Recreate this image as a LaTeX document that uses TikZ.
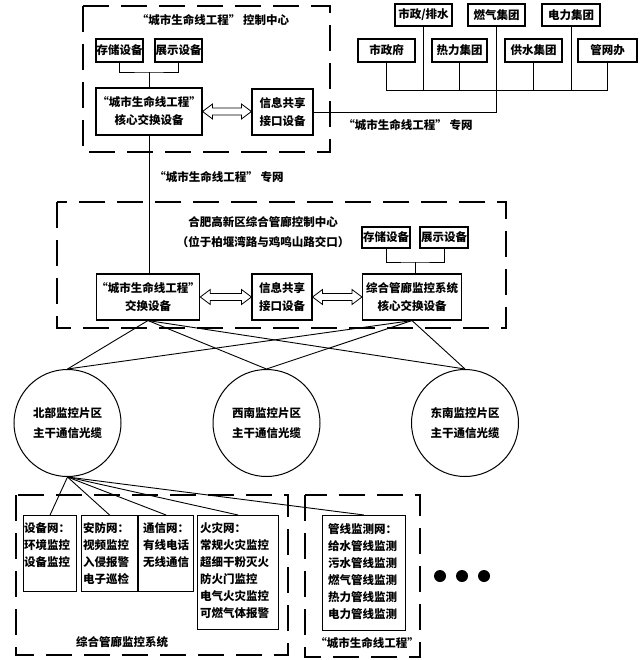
\documentclass[tikz,border=0pt]{standalone}
\usepackage{fontspec}
\newfontfamily\cjk{Noto Sans CJK SC}
\usetikzlibrary{calc}
\begin{document}
\begin{tikzpicture}[x=1pt,y=1pt]
\tikzstyle{every node}+=[inner sep=0pt,font=\cjk\bfseries\fontsize{11.5}{18}\selectfont]
\tikzstyle{box}=[draw,line width=1.1pt,align=center]
\tikzstyle{netbox}=[draw,line width=1.1pt,anchor=north west]
\tikzstyle{nettext}=[anchor=north west,align=left,font=\cjk\bfseries\fontsize{11.5}{17}\selectfont]
\tikzstyle{ring}=[draw,circle,line width=1pt,minimum size=107pt,align=center,font=\cjk\bfseries\fontsize{11.5}{20}\selectfont]
\tikzstyle{dashbox}=[line width=1.1pt,dash pattern=on 26pt off 12pt]
\tikzstyle{wire}=[line width=0.9pt]
\tikzstyle{dblarrow}=[line width=0.8pt,to path={let \p1=(\tikztostart),\p2=(\tikztotarget) in
 (\p1) -- (\x1+10pt,\y1+7.5pt) -- (\x1+10pt,\y1+3.5pt) -- (\x2-10pt,\y1+3.5pt) -- (\x2-10pt,\y1+7.5pt)
 -- (\x2,\y1) -- (\x2-10pt,\y1-7.5pt) -- (\x2-10pt,\y1-3.5pt) -- (\x1+10pt,\y1-3.5pt) -- (\x1+10pt,\y1-7.5pt) -- cycle}]
\useasboundingbox (0,0) rectangle (640,-660);
\draw [dashbox] (83,-6) rectangle (330,-152);
\node (title1) at (213,-20) {“城市生命线工程” 控制中心};
\node [box,minimum width=47pt,minimum height=23pt] (store1) at (119.5,-50.5) {存储设备};
\node [box,minimum width=47pt,minimum height=23pt] (show1) at (178.5,-50.5) {展示设备};
\node [box,minimum width=106pt,minimum height=47pt] (core1) at (149,-111.5) {“城市生命线工程”\\核心交换设备};
\node [box,minimum width=61pt,minimum height=46pt] (share1) at (282.5,-112) {信息共享\\接口设备};
\coordinate (j1) at (149,-72);
\draw [wire] (store1.south) |- (j1) -| (show1.south);
\draw [wire] (j1) -- (core1.north);
\draw [dblarrow] (core1.east) to (share1.west);
\node [box,minimum width=57pt,minimum height=22pt] (szps) at (423.5,-15) {市政/排水};
\node [box,minimum width=57pt,minimum height=22pt] (rq) at (496.5,-15) {燃气集团};
\node [box,minimum width=58pt,minimum height=22pt] (dl) at (571,-15) {电力集团};
\node [box,minimum width=57pt,minimum height=23pt] (szf) at (386.5,-50.5) {市政府};
\node [box,minimum width=55pt,minimum height=23pt] (rl) at (459.5,-50.5) {热力集团};
\node [box,minimum width=57pt,minimum height=23pt] (gs) at (533.5,-50.5) {供水集团};
\node [box,minimum width=59pt,minimum height=23pt] (gwb) at (607.5,-50.5) {管网办};
\coordinate (bus) at (0,-90);
\draw [wire] (szf.south) -- (szf.south |- bus) -- (gwb.south |- bus) -- (gwb.south);
\foreach \n in {szps,rl,gs,dl}
  \draw [wire] (\n.south) -- (\n.south |- bus);
\draw [wire] (share1.east) -| (rq.south);
\node (net1) at (408,-125) {“城市生命线工程” 专网};
\node (net2) at (219,-177) {“城市生命线工程” 专网};
\draw [dashbox] (57,-202) rectangle (506,-328);
\node [align=center,font=\cjk\bfseries\fontsize{11.5}{20}\selectfont] (title2) at (263,-232) {合肥高新区综合管廊控制中心\\（位于柏堰湾路与鸡鸣山路交口）};
\node [box,minimum width=48pt,minimum height=21pt] (store2) at (386,-237.5) {存储设备};
\node [box,minimum width=48pt,minimum height=21pt] (show2) at (444,-237.5) {展示设备};
\node [box,minimum width=103pt,minimum height=46pt] (exch) at (148,-297) {“城市生命线工程”\\交换设备};
\node [box,minimum width=60pt,minimum height=46pt] (share2) at (282,-297) {信息共享\\接口设备};
\node [box,minimum width=99pt,minimum height=46pt] (core2) at (412,-297) {综合管廊监控系统\\核心交换设备};
\draw [wire] (core1.south) -- (core1.south |- exch.north);
\coordinate (j2) at (415,-262);
\draw [wire] (store2.south) |- (j2) -| (show2.south);
\draw [wire] (j2) -- (j2 |- core2.north);
\draw [dblarrow] (exch.east) to (share2.west);
\draw [dblarrow] (share2.east) to (core2.west);
\node [ring] (bb) at (67.5,-423) {北部监控片区\\主干通信光缆};
\node [ring] (xn) at (266.5,-423) {西南监控片区\\主干通信光缆};
\node [ring] (dn) at (465,-423) {东南监控片区\\主干通信光缆};
\foreach \c in {bb,xn,dn} {
  \draw [wire] (exch.south) -- (\c.north);
  \draw [wire] (core2.south) -- (\c.north);
}
\draw [dashbox] (16,-495) rectangle (288,-655);
\draw [dashbox] (305,-495) rectangle (420,-657);
\node [netbox,minimum width=53pt,minimum height=76pt] (sb) at (23,-515) {};
\node [netbox,minimum width=56pt,minimum height=76pt] (af) at (81,-515) {};
\node [netbox,minimum width=55pt,minimum height=76pt] (tx) at (138,-515) {};
\node [netbox,minimum width=81pt,minimum height=114pt] (hz) at (197,-515) {};
\node [netbox,minimum width=83pt,minimum height=115pt] (gx) at (322,-515) {};
\node [nettext] (sb-t) at ([shift={(1,-7)}]sb.north west) {设备网：\\环境监控\\设备监控};
\node [nettext] (af-t) at ([shift={(2,-7)}]af.north west) {安防网：\\视频监控\\入侵报警\\电子巡检};
\node [nettext] (tx-t) at ([shift={(5,-7)}]tx.north west) {通信网：\\有线电话\\无线通信};
\node [nettext] (hz-t) at ([shift={(3,-7)}]hz.north west) {火灾网：\\常规火灾监控\\超细干粉灭火\\防火门监控\\电气火灾监控\\可燃气体报警};
\node [nettext] (gx-t) at ([shift={(6,-8)}]gx.north west) {管线监测网：\\给水管线监测\\污水管线监测\\燃气管线监测\\热力管线监测\\电力管线监测};
\foreach \b in {sb,af,tx,hz,gx}
  \draw [wire] (bb.south) -- (\b.north);
\node (sys) at (122,-642) {综合管廊监控系统};
\node (life) at (367,-643) {“城市生命线工程”};
\foreach \x in {440,462,484}
  \fill (\x,-576) circle (6);
\end{tikzpicture}
\end{document}
